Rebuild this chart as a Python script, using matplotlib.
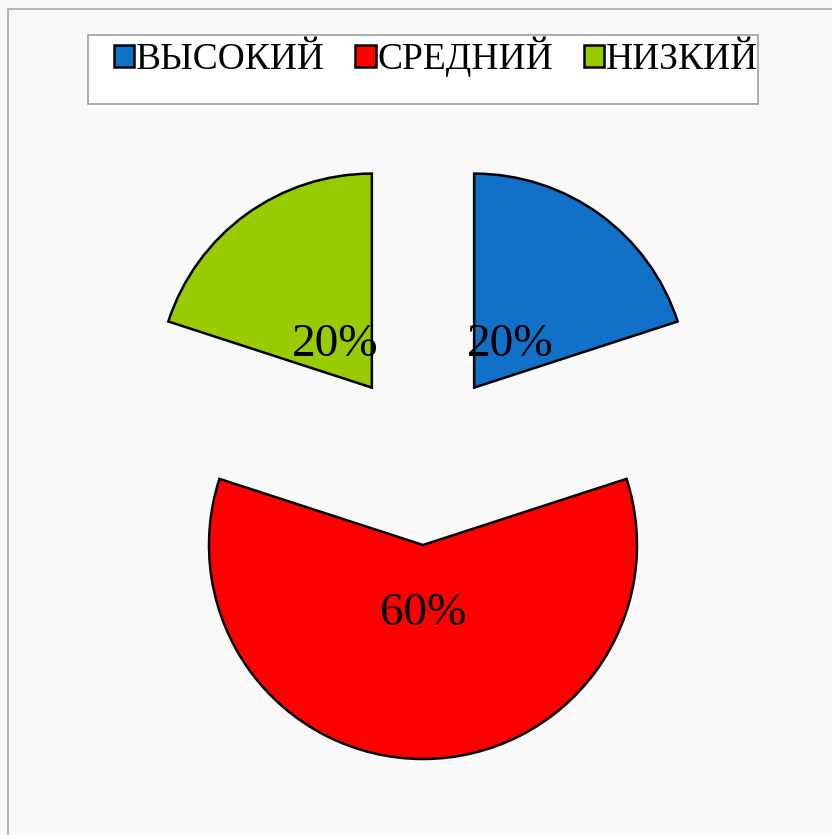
import matplotlib.pyplot as plt
from matplotlib.patches import Rectangle

plt.rcParams['font.family'] = ['Liberation Serif', 'DejaVu Serif']

# data
labels = ['ВЫСОКИЙ', 'СРЕДНИЙ', 'НИЗКИЙ']
values = [20, 60, 20]
colors = ['#1170c8', '#ff0000', '#99cc00']

W, H = 832, 835
fig = plt.figure(figsize=(W / 100, H / 100), dpi=100, facecolor='#f9f9f9')
ax = fig.add_axes([0, 0, 1, 1])

r = 214
# explode is in data units (pixels here), not a fraction of the radius
wedges, texts, autotexts = ax.pie(values, colors=colors, startangle=90, counterclock=False,
                                  center=(423, H - 458), radius=r,
                                  explode=[87] * 3, autopct='%d%%', pctdistance=0.29,
                                  wedgeprops=dict(edgecolor='black', linewidth=1.8),
                                  textprops=dict(fontsize=34, color='black'))
# excel puts the labels a little lower
for t in autotexts:
    x, y = t.get_position()
    t.set_position((x, y - 7))

ax.set_xlim(0, W)
ax.set_ylim(0, H)
ax.set_aspect('equal')
ax.axis('off')

# outer border and legend box
ax.add_patch(Rectangle((8, -10), W + 20, H - 9 + 10, fill=False, edgecolor='#a8a8a8', lw=1.2))
ax.add_patch(Rectangle((88, H - 104), 670, 69, facecolor='white', edgecolor='#a0a0a0', lw=1.2))

fig.legend(wedges, labels, loc='center', bbox_to_anchor=(436 / W, 1 - 57 / H), ncol=3,
           frameon=False, fontsize=27, handlelength=0.55, handleheight=0.55,
           handletextpad=0.05, columnspacing=0.8, borderpad=0)

fig.savefig('out.png', dpi=100, facecolor=fig.get_facecolor())
